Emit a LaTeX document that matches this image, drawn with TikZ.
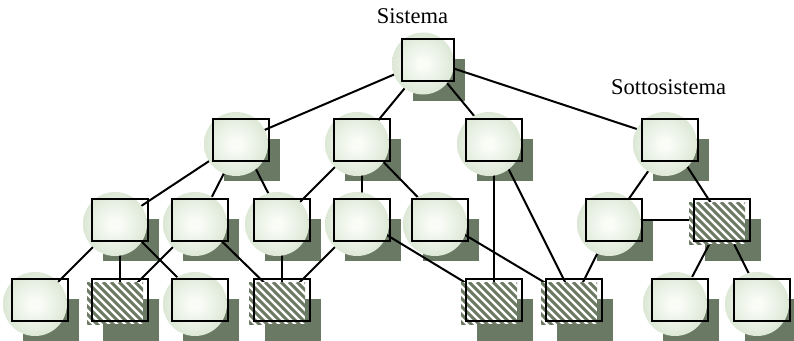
\documentclass[tikz,border=0pt]{standalone}
\usepackage{fontspec}
\setmainfont{Liberation Serif}
\definecolor{glowin}{RGB}{250,252,247}
\definecolor{glowout}{RGB}{199,217,190}
\definecolor{shadowc}{RGB}{106,121,99}
\definecolor{stripec}{RGB}{108,122,100}
\pgfdeclareradialshading{bulbglow}{\pgfpoint{0bp}{0bp}}{color(0bp)=(glowin); color(4bp)=(glowin); color(40bp)=(glowout); color(50bp)=(glowout)}
\pgfdeclarelayer{shadowlayer}
\pgfdeclarelayer{edgelayer}
\pgfdeclarelayer{bulblayer}
\pgfsetlayers{shadowlayer,edgelayer,bulblayer,main}
\tikzset{
  unitbox/.style={draw=black, line width=2pt, minimum width=56pt, minimum height=42pt, inner sep=0pt, outer sep=0pt},
  link/.style={draw=black, line width=2pt},
  stripe/.style={draw=stripec, line width=2.9pt},
  caption/.style={font=\fontsize{22.5}{27}\selectfont, anchor=base, inner sep=0pt}
}
\begin{document}
\begin{tikzpicture}[x=1pt, y=-1pt]
\useasboundingbox (0,0) rectangle (794,340);

% labels
\node[caption] (tsis) at (412.5,23) {Sistema};
\node[caption] (tsub) at (668.5,94) {Sottosistema};

% boxes
\node[unitbox, minimum width=52pt] (sis) at (428,60) {};
\node[unitbox] (a) at (241,140) {};
\node[unitbox] (b) at (362,140) {};
\node[unitbox] (c) at (494,140) {};
\node[unitbox] (d) at (670,140) {};
\node[unitbox] (e) at (120,220) {};
\node[unitbox] (f) at (200,220) {};
\node[unitbox] (g) at (282,220) {};
\node[unitbox] (h) at (362,220) {};
\node[unitbox] (i) at (440,220) {};
\node[unitbox] (j) at (614,220) {};
\node[unitbox] (k) at (722,220) {};
\node[unitbox] (l) at (40,300) {};
\node[unitbox] (m) at (120,300) {};
\node[unitbox] (n) at (200,300) {};
\node[unitbox] (o) at (282,300) {};
\node[unitbox] (p) at (494,300) {};
\node[unitbox] (q) at (574,300) {};
\node[unitbox] (r) at (680,300) {};
\node[unitbox] (s) at (762,300) {};

% drop shadows
\begin{pgfonlayer}{shadowlayer}
  \foreach \n in {sis,a,b,c,d,e,f,g,h,i,j,k,l,m,n,o,p,q,r,s}
    \fill[shadowc] ([shift={(11,20)}]\n.north west) rectangle ([shift={(11,20)}]\n.south east);
\end{pgfonlayer}

% glowing discs behind the plain boxes
\begin{pgfonlayer}{bulblayer}
  \foreach \n in {a,b,c,d,e,f,g,h,i,j,l,n,r,s}
    \shade[shading=bulbglow] ([shift={(-5,4)}]\n.center) circle[radius=32pt];
  \shade[shading=bulbglow] ([shift={(-5,3.5)}]sis.center) circle[radius=31pt];
  % striped fill of the hatched boxes
  \foreach \n in {k,m,o,p,q} {
    \begin{scope}
      \clip ([shift={(-5,3)}]\n.north west) rectangle ([shift={(-5,3)}]\n.south east);
      \fill[white] ([shift={(-5,3)}]\n.north west) rectangle ([shift={(-5,3)}]\n.south east);
      \foreach \k in {-56,-48,...,64}
        \draw[stripe] ([shift={(\k-5,3)}]\n.north west) -- ++(50,50);
    \end{scope}
  }
\end{pgfonlayer}

% connectors
\begin{pgfonlayer}{edgelayer}
  \foreach \u/\v in {sis/a,sis/b,sis/c,sis/d,a/e,a/f,a/g,b/g,b/h,b/i,c/p,c/q,d/j,d/k,j/k,j/q,k/r,k/s,e/l,e/m,e/n,f/m,f/o,g/o,h/o,h/p,i/q}
    \draw[link] (\u.center) -- (\v.center);
\end{pgfonlayer}
\end{tikzpicture}
\end{document}
